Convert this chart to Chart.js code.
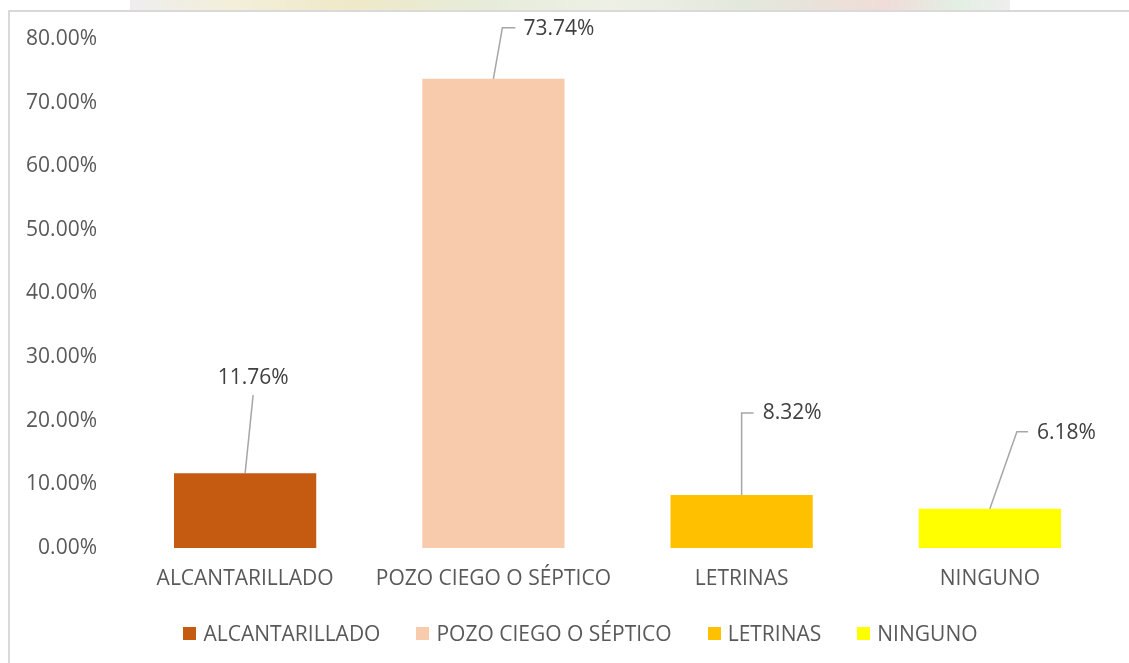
<!DOCTYPE html>
<html lang="es">
<head>
<meta charset="utf-8">
<title>Tipo de desagüe</title>
<script src="https://cdn.jsdelivr.net/npm/chart.js@4.4.1/dist/chart.umd.min.js"></script>
<style>
    html, body {
        margin: 0;
        padding: 0;
        background: #ffffff;
        overflow: hidden;
    }
    .page {
        position: relative;
        width: 1129px;
        height: 663px;
    }
    /* faded picture strip behind the chart top */
    .strip {
        position: absolute;
        left: 130px;
        top: 0;
        width: 880px;
        height: 12px;
        background: linear-gradient(90deg, #eeeeee 0%, #f3efd9 12%, #efe9c8 25%, #e6ecd9 40%, #eef0e6 55%, #e3e8dc 70%, #f0dcd8 86%, #e3efe3 94%, #eeeeee 100%);
    }
    .frame {
        position: absolute;
        left: 8px;
        top: 10px;
        width: 1200px;
        height: 700px;
        border-left: 2px solid #d9d9d9;
        border-top: 2px solid #d9d9d9;
        background: #ffffff;
    }
    .chart-box {
        position: absolute;
        left: 0;
        top: 0;
        width: 1129px;
        height: 663px;
    }
    #legend {
        position: absolute;
        left: 0;
        top: 619px;
        width: 1161px;
        height: 28px;
        display: flex;
        justify-content: center;
        align-items: center;
        gap: 36px;
        font-family: 'Open Sans', 'Noto Sans', sans-serif;
        font-size: 21px;
        color: #595959;
    }
    #legend .item {
        display: flex;
        align-items: center;
        white-space: nowrap;
    }
    #legend .box {
        width: 13px;
        height: 13px;
        margin-right: 7px;
    }
</style>
</head>
<body>
<div class="page">
    <div class="strip"></div>
    <div class="frame"></div>
    <div class="chart-box">
        <canvas id="chart"></canvas>
    </div>
    <div id="legend"></div>
</div>
<script>
// chart data
const categories = ['ALCANTARILLADO', 'POZO CIEGO O SÉPTICO', 'LETRINAS', 'NINGUNO'];
const values = [11.76, 73.74, 8.32, 6.18];
const barColors = ['#C55A11', '#F8CBAD', '#FFC000', '#FFFF00'];
const yTicks = [0, 10, 20, 30, 40, 50, 60, 70, 80];

// where each data label sits relative to the top centre of its bar
// end: leader end, elbow: horizontal run, text: label anchor
const labelLayout = [
    { end: [8, -78], elbow: 0, text: [8, -95], align: 'center' },
    { end: [9, -51], elbow: 13, text: [30, -50], align: 'left' },
    { end: [0, -82], elbow: 12, text: [21, -82], align: 'left' },
    { end: [27, -77], elbow: 11, text: [47, -76], align: 'left' }
];

const FONT = "'Open Sans', 'Noto Sans', sans-serif";

// draws the values with their leader lines, Excel style
const leaderLabels = {
    id: 'leaderLabels',
    afterDatasetsDraw(chart) {
        const ctx = chart.ctx;
        const meta = chart.getDatasetMeta(0);
        ctx.save();
        meta.data.forEach((bar, i) => {
            const lay = labelLayout[i];
            const x1 = bar.x + lay.end[0];
            const y1 = bar.y + lay.end[1];

            ctx.strokeStyle = '#a6a6a6';
            ctx.lineWidth = 1.5;
            ctx.beginPath();
            ctx.moveTo(bar.x, bar.y);
            ctx.lineTo(x1, y1);
            if (lay.elbow) {
                ctx.lineTo(x1 + lay.elbow, y1);
            }
            ctx.stroke();

            ctx.fillStyle = '#404040';
            ctx.font = '21px ' + FONT;
            ctx.textAlign = lay.align;
            ctx.textBaseline = 'middle';
            ctx.fillText(values[i].toFixed(2) + '%', bar.x + lay.text[0], bar.y + lay.text[1]);
        });
        ctx.restore();
    }
};

// legend built in HTML from the chart's own labels and colours
const htmlLegend = {
    id: 'htmlLegend',
    afterUpdate(chart) {
        const box = document.getElementById('legend');
        box.innerHTML = '';
        const ds = chart.data.datasets[0];
        chart.data.labels.forEach((label, i) => {
            const item = document.createElement('div');
            item.className = 'item';
            const swatch = document.createElement('span');
            swatch.className = 'box';
            swatch.style.background = ds.backgroundColor[i];
            const text = document.createElement('span');
            text.textContent = label;
            item.appendChild(swatch);
            item.appendChild(text);
            box.appendChild(item);
        });
    }
};

const ctx = document.getElementById('chart').getContext('2d');
new Chart(ctx, {
    type: 'bar',
    data: {
        labels: categories,
        datasets: [{
            label: 'Tipo',
            data: values,
            backgroundColor: barColors,
            borderWidth: 0,
            categoryPercentage: 1,
            barPercentage: 0.573
        }]
    },
    options: {
        responsive: true,
        maintainAspectRatio: false,
        animation: false,
        layout: {
            padding: { left: 14, right: 15, top: 39, bottom: 72 }
        },
        plugins: {
            legend: { display: false },
            tooltip: { enabled: false }
        },
        scales: {
            x: {
                grid: { display: false, drawTicks: false },
                border: { display: false },
                ticks: {
                    color: '#595959',
                    padding: 18,
                    font: { family: FONT, size: 21 },
                    maxRotation: 0,
                    autoSkip: false
                },
                afterFit(scale) {
                    scale.height = 43;
                }
            },
            y: {
                min: 0,
                max: 80,
                grid: { display: false, drawTicks: false },
                border: { display: false },
                afterBuildTicks(scale) {
                    scale.ticks = yTicks.map(v => ({ value: v }));
                },
                ticks: {
                    color: '#595959',
                    padding: 24,
                    font: { family: FONT, size: 21 },
                    callback: v => v.toFixed(2) + '%'
                },
                afterFit(scale) {
                    scale.width = 107;
                }
            }
        }
    },
    plugins: [leaderLabels, htmlLegend]
});
</script>
</body>
</html>
